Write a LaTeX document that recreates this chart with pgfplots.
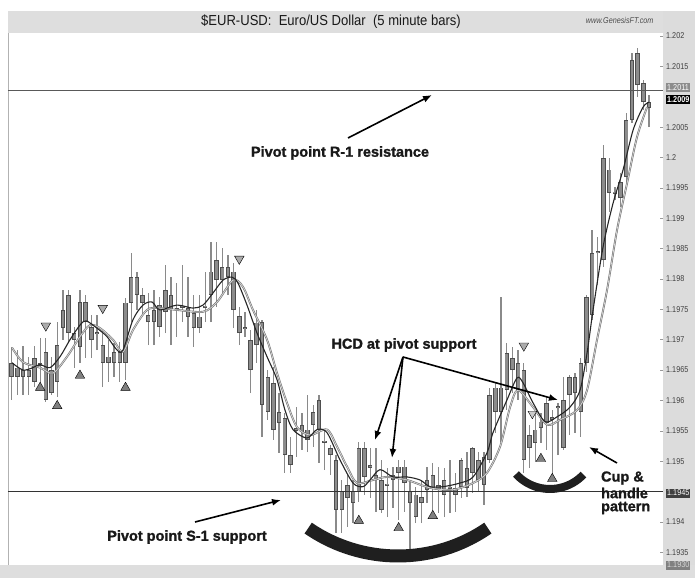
\documentclass[border=0pt]{standalone}
\usepackage{fontspec}
\setmainfont{Liberation Sans}
\newfontfamily\narrow[FakeStretch=0.85]{Liberation Sans}
\newfontfamily\titlefont[FakeStretch=0.9]{Liberation Sans}
\newfontfamily\annfont[FakeBold=1.3]{Liberation Sans Bold}
\usepackage{pgfplots}
\pgfplotsset{compat=1.18}
\usepackage{pgfplotstable}
\usetikzlibrary{arrows.meta}

\definecolor{panel}{HTML}{DCDCDC}
\definecolor{strip}{HTML}{DEDEDE}
\definecolor{wick}{HTML}{8A8A8A}
\definecolor{bodyedge}{HTML}{4E4E4E}
\definecolor{bodyfill}{HTML}{8C8C8C}
\definecolor{triup}{HTML}{808080}
\definecolor{tridown}{HTML}{ABABAB}

% i = bar number, lo/hi = wick, bl/bh = body
\pgfplotstableread{
i lo hi bl bh
1 1.19601 1.19688 1.19639 1.19662
2 1.19609 1.19683 1.19639 1.19654
3 1.19609 1.19690 1.19639 1.19650
4 1.19609 1.19672 1.19639 1.19650
5 1.19622 1.19690 1.19631 1.19670
6 1.19617 1.19703 1.19657 1.19661
7 1.19598 1.19703 1.19601 1.19680
8 1.19609 1.19672 1.19612 1.19650
9 1.19606 1.19729 1.19631 1.19691
10 1.19700 1.19782 1.19719 1.19749
11 1.19695 1.19782 1.19711 1.19774
12 1.19654 1.19721 1.19700 1.19711
13 1.19662 1.19782 1.19688 1.19762
14 1.19670 1.19774 1.19729 1.19762
15 1.19670 1.19741 1.19700 1.19721
16 1.19683 1.19741 1.19709 1.19713
17 1.19622 1.19716 1.19662 1.19691
18 1.19631 1.19700 1.19662 1.19672
19 1.19639 1.19695 1.19662 1.19680
20 1.19631 1.19696 1.19662 1.19680
21 1.19634 1.19769 1.19662 1.19761
22 1.19729 1.19843 1.19761 1.19803
23 1.19749 1.19812 1.19774 1.19803
24 1.19741 1.19785 1.19761 1.19774
25 1.19691 1.19777 1.19729 1.19741
26 1.19691 1.19782 1.19729 1.19749
27 1.19705 1.19770 1.19721 1.19757
28 1.19711 1.19823 1.19746 1.19782
29 1.19691 1.19803 1.19749 1.19774
30 1.19705 1.19793 1.19749 1.19752
31 1.19729 1.19823 1.19752 1.19756
32 1.19705 1.19803 1.19738 1.19752
33 1.19688 1.19774 1.19719 1.19744
34 1.19711 1.19774 1.19719 1.19738
35 1.19729 1.19812 1.19752 1.19756
36 1.19729 1.19861 1.19774 1.19812
37 1.19754 1.19861 1.19798 1.19831
38 1.19777 1.19851 1.19798 1.19820
39 1.19774 1.19840 1.19803 1.19820
40 1.19719 1.19826 1.19749 1.19812
41 1.19691 1.19754 1.19711 1.19739
42 1.19705 1.19746 1.19718 1.19721
43 1.19612 1.19716 1.19650 1.19700
44 1.19662 1.19749 1.19691 1.19728
45 1.19540 1.19733 1.19593 1.19729
46 1.19568 1.19650 1.19581 1.19639
47 1.19535 1.19655 1.19552 1.19629
48 1.19514 1.19612 1.19563 1.19581
49 1.19481 1.19579 1.19510 1.19571
50 1.19481 1.19540 1.19494 1.19510
51 1.19507 1.19589 1.19550 1.19554
52 1.19519 1.19579 1.19548 1.19560
53 1.19515 1.19609 1.19535 1.19552
54 1.19524 1.19593 1.19560 1.19581
55 1.19497 1.19609 1.19552 1.19601
56 1.19486 1.19552 1.19530 1.19534
57 1.19477 1.19527 1.19510 1.19522
58 1.19382 1.19510 1.19420 1.19502
59 1.19382 1.19469 1.19420 1.19450
60 1.19392 1.19477 1.19440 1.19461
61 1.19398 1.19469 1.19431 1.19450
62 1.19433 1.19532 1.19450 1.19522
63 1.19445 1.19532 1.19474 1.19522
64 1.19440 1.19522 1.19489 1.19493
65 1.19417 1.19522 1.19469 1.19477
66 1.19415 1.19502 1.19420 1.19469
67 1.19408 1.19489 1.19459 1.19463
68 1.19423 1.19491 1.19469 1.19477
69 1.19403 1.19502 1.19481 1.19491
70 1.19417 1.19502 1.19464 1.19491
71 1.19354 1.19469 1.19431 1.19450
72 1.19398 1.19458 1.19408 1.19445
73 1.19398 1.19469 1.19431 1.19441
74 1.19431 1.19491 1.19453 1.19469
75 1.19417 1.19497 1.19456 1.19477
76 1.19415 1.19491 1.19453 1.19461
77 1.19408 1.19489 1.19445 1.19469
78 1.19415 1.19502 1.19454 1.19458
79 1.19417 1.19481 1.19445 1.19456
80 1.19440 1.19505 1.19458 1.19502
81 1.19441 1.19515 1.19456 1.19489
82 1.19448 1.19524 1.19481 1.19522
83 1.19450 1.19515 1.19469 1.19502
84 1.19428 1.19515 1.19461 1.19507
85 1.19497 1.19621 1.19502 1.19609
86 1.19547 1.19629 1.19581 1.19621
87 1.19532 1.19770 1.19581 1.19621
88 1.19584 1.19695 1.19617 1.19678
89 1.19612 1.19688 1.19650 1.19670
90 1.19601 1.19683 1.19617 1.19662
91 1.19481 1.19662 1.19502 1.19650
92 1.19489 1.19560 1.19522 1.19543
93 1.19499 1.19579 1.19530 1.19552
94 1.19530 1.19579 1.19555 1.19565
95 1.19519 1.19606 1.19563 1.19596
96 1.19473 1.19584 1.19568 1.19573
97 1.19510 1.19596 1.19587 1.19591
98 1.19519 1.19639 1.19522 1.19601
99 1.19543 1.19642 1.19609 1.19639
100 1.19547 1.19645 1.19612 1.19639
101 1.19540 1.19670 1.19581 1.19662
102 1.19647 1.19774 1.19662 1.19770
103 1.19733 1.19881 1.19741 1.19843
104 1.19790 1.19869 1.19842 1.19846
105 1.19820 1.20021 1.19831 1.19999
106 1.19910 1.19999 1.19942 1.19980
107 1.19930 1.19951 1.19940 1.19944
108 1.19919 1.19975 1.19933 1.19960
109 1.19960 1.20073 1.19968 1.20062
110 1.20057 1.20172 1.20062 1.20161
111 1.20100 1.20180 1.20119 1.20172
112 1.20078 1.20128 1.20091 1.20123
113 1.20050 1.20103 1.20082 1.20091
}\candles

% fast average (dark line)
\pgfplotstableread{
x y
1.05 1.19662
2.99 1.19650
4.74 1.19654
5.97 1.19659
7.73 1.19654
9.49 1.19672
11.25 1.19700
13.00 1.19724
14.06 1.19731
15.99 1.19719
17.75 1.19705
19.51 1.19683
20.56 1.19683
22.32 1.19733
24.08 1.19757
25.66 1.19762
27.06 1.19749
30.05 1.19757
32.86 1.19752
34.62 1.19757
36.38 1.19777
38.13 1.19798
39.71 1.19803
40.77 1.19793
42.35 1.19757
44.11 1.19711
45.87 1.19672
47.63 1.19634
49.03 1.19584
50.44 1.19552
52.90 1.19538
54.66 1.19552
56.41 1.19547
58.70 1.19502
60.98 1.19464
62.74 1.19458
63.97 1.19469
65.73 1.19486
68.01 1.19474
70.47 1.19474
72.76 1.19469
74.52 1.19458
76.80 1.19458
79.79 1.19464
82.08 1.19474
84.54 1.19514
85.59 1.19547
88.05 1.19601
89.81 1.19637
90.86 1.19629
92.62 1.19596
94.73 1.19565
96.84 1.19573
99.12 1.19589
100.88 1.19617
102.11 1.19678
103.17 1.19749
104.93 1.19853
106.69 1.19925
108.45 1.19980
110.20 1.20045
111.96 1.20083
113.01 1.20091
}\fastma

% slow average (grey double line)
\pgfplotstableread{
x y
1.05 1.19687
2.99 1.19663
5.97 1.19654
8.26 1.19645
10.72 1.19672
13.00 1.19705
14.76 1.19724
16.52 1.19719
18.80 1.19700
20.56 1.19680
22.32 1.19716
24.78 1.19749
27.06 1.19752
30.05 1.19749
34.62 1.19746
37.08 1.19762
39.89 1.19798
41.64 1.19787
43.40 1.19749
45.87 1.19700
47.63 1.19645
49.38 1.19596
51.14 1.19556
53.43 1.19543
56.41 1.19552
58.17 1.19524
59.93 1.19491
61.68 1.19464
64.50 1.19469
66.96 1.19474
70.47 1.19469
74.52 1.19456
78.56 1.19453
82.08 1.19464
84.54 1.19481
86.83 1.19524
88.59 1.19589
89.99 1.19617
92.62 1.19589
95.08 1.19560
97.37 1.19568
100.35 1.19584
102.11 1.19617
103.87 1.19700
105.63 1.19782
107.39 1.19881
109.15 1.19958
110.90 1.20034
112.66 1.20083
}\slowma

\begin{document}
\begin{tikzpicture}[x=1pt,y=1pt]
\path[use as bounding box] (0,0) rectangle (695,578);
\fill[white] (0,0) rectangle (695,578);
\fill[panel] (663,0) rectangle (695,567);
\fill[strip] (8,545) rectangle (663,567);
\fill[strip] (0,0) rectangle (695,13);
\draw[black!30, line width=0.6pt] (8,13) -- (8,545);

\begin{axis}[
  at={(8pt,13pt)}, anchor=south west,
  scale only axis, width=655pt, height=532pt,
  xmin=0.35, xmax=115.46, ymin=1.19329, ymax=1.20205,
  axis line style={draw=none},
  xtick=\empty,
  ytick pos=right,
  ytick={1.1935,1.194,1.195,1.1955,1.196,1.1965,1.197,1.1975,1.198,1.1985,1.199,1.1995,1.2,1.2005,1.2015,1.202},
  yticklabels={1.1935,1.194,1.195,1.1955,1.196,1.1965,1.197,1.1975,1.198,1.1985,1.199,1.1995,1.2,1.2005,1.2015,1.202},
  yticklabel style={font=\narrow\fontsize{8.5}{9}\selectfont, text=black!75, anchor=west, inner sep=0pt, xshift=3pt},
  major tick length=3pt, tick style={draw=black!40, line width=0.5pt},
]
% wicks
\addplot[forget plot, draw=none, mark=none, error bars/.cd, y dir=plus, y explicit, error mark=none,
  error bar style={draw=wick, line width=1.3pt}]
  table[x=i, y=lo, y error expr=\thisrow{hi}-\thisrow{lo}] {\candles};
% bodies: dark edge, then grey fill
\addplot[forget plot, draw=none, mark=none, error bars/.cd, y dir=plus, y explicit, error mark=none,
  error bar style={draw=bodyedge, line width=4.4pt}]
  table[x=i, y=bl, y error expr=\thisrow{bh}-\thisrow{bl}] {\candles};
\addplot[forget plot, draw=none, mark=none, error bars/.cd, y dir=plus, y explicit, error mark=none,
  error bar style={draw=bodyfill, line width=2.8pt, shorten <=0.8pt, shorten >=0.8pt}]
  table[x=i, y=bl, y error expr=\thisrow{bh}-\thisrow{bl}] {\candles};

% pivot lines
\addplot[forget plot, color=black!65, line width=1.2pt] coordinates {(0.35,1.2011) (115.46,1.2011)};
\addplot[forget plot, color=black!80, line width=1.4pt] coordinates {(0.35,1.1945) (115.46,1.1945)};

% moving averages
\addplot[forget plot, color=black!55, line width=0.6pt, double=black!15, double distance=0.7pt, smooth] table[x=x, y=y] {\slowma};
\addplot[forget plot, color=black!85, line width=1.1pt, smooth] table[x=x, y=y] {\fastma};

% swing markers
\addplot[forget plot, only marks, mark=triangle*, mark size=5.5pt, mark options={fill=tridown, draw=none, rotate=180}]
  coordinates {(7,1.19723) (17,1.19752) (41,1.19833) (91,1.19690)};
\addplot[forget plot, only marks, mark=triangle*, mark size=5pt, mark options={fill=tridown!60, draw=none, rotate=180}]
  coordinates {(92.5,1.19578)};
\addplot[forget plot, only marks, mark=triangle*, mark size=5.5pt, mark options={fill=triup, draw=none}]
  coordinates {(6,1.19621) (9,1.19591) (13,1.19641) (21,1.19621) (62,1.19402) (69,1.19390) (75,1.19410) (94,1.19504) (96,1.19471)};
\end{axis}

% price boxes on the scale
\node[fill=black!45, text=white, font=\narrow\fontsize{8.5}{9}\selectfont, inner sep=1pt, anchor=west, minimum height=9pt] at (666,490.5) {1.2011};
\node[fill=black, text=white, font=\narrow\bfseries\fontsize{8.5}{9}\selectfont, inner sep=1pt, anchor=west, minimum height=9pt] at (666,478) {1.2009};
\node[fill=black!75, text=white, font=\narrow\fontsize{8.5}{9}\selectfont, inner sep=1pt, anchor=west, minimum height=9pt] at (666,85) {1.1945};
\node[fill=black!50, text=black!15, font=\narrow\fontsize{8.5}{9}\selectfont, inner sep=1pt, anchor=west, minimum height=9pt] at (666,13) {1.1930};

% header
\node[font=\titlefont\fontsize{14.5}{16}\selectfont, text=black!90] at (331,556) {\$EUR-USD:\ \ Euro/US Dollar\ \ (5 minute bars)};
\node[font=\narrow\itshape\fontsize{8.5}{9}\selectfont, text=black!70, anchor=east] at (657,558) {www.GenesisFT.com};

% cups
\draw[line width=13pt, black!88] (308.2,49.9) arc[start angle=235.5, end angle=304.5, radius=158.6pt];
\draw[line width=8pt, black!88] (516.0,104.0) arc[start angle=222.4, end angle=316.7, radius=46pt];

% annotations
\begin{scope}[font=\annfont\fontsize{14.5}{16}\selectfont, text=black!90, line width=1.6pt, -{Latex[length=9pt,width=7pt]}]
\node at (340,425) {Pivot point R-1 resistance};
\draw (348,440) -- (432,483);
\node at (187,41) {Pivot point S-1 support};
\draw (195,56) -- (281,78);
\node at (404,233) {HCD at pivot support};
\draw (403,221) -- (375,138);
\draw (403,221) -- (392,120);
\draw (403,221) -- (558,178);
\node[anchor=west] at (597,100) {Cup \&};
\node[anchor=west] at (597,85) {handle};
\node[anchor=west] at (597,70) {pattern};
\draw (617,115) -- (589,131);
\end{scope}
\end{tikzpicture}
\end{document}
